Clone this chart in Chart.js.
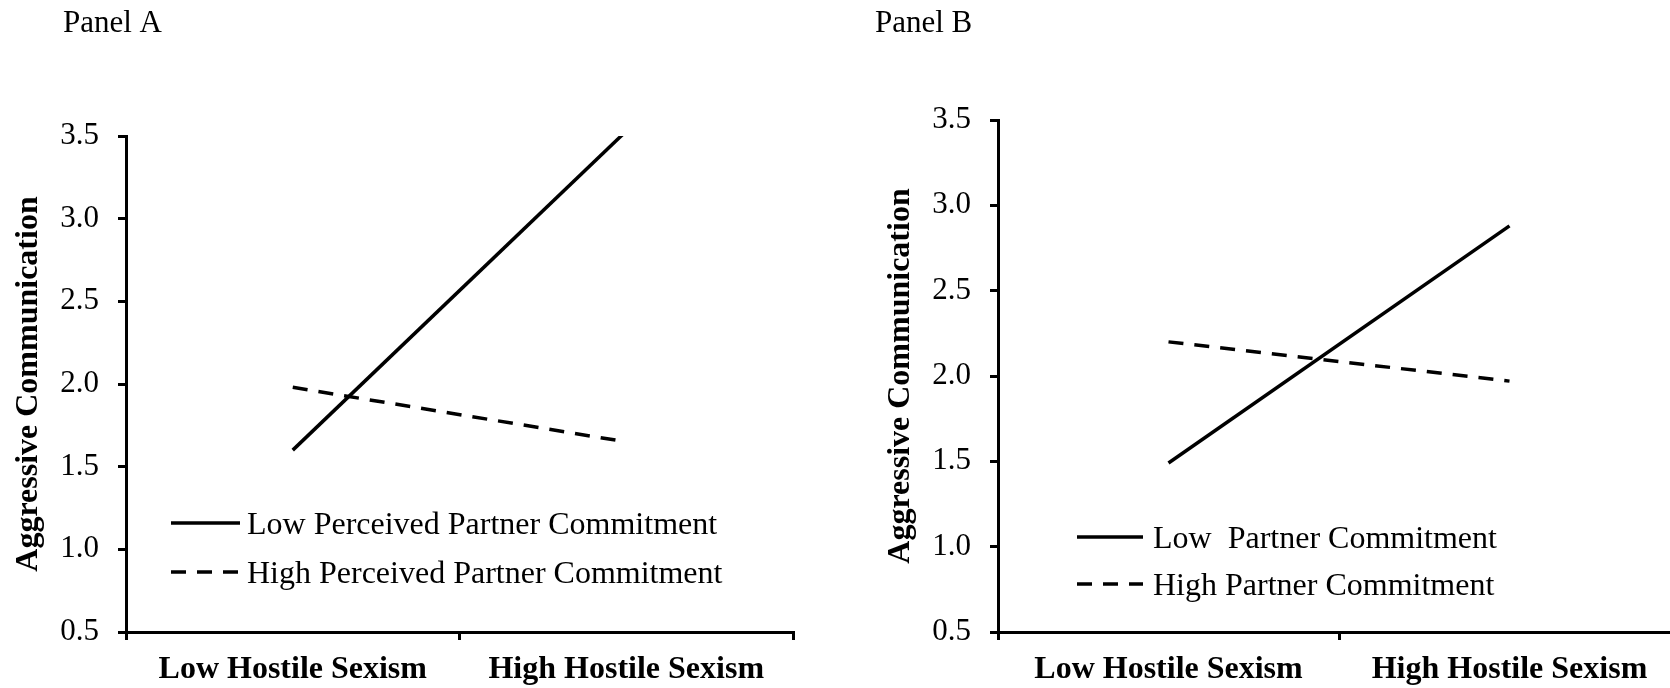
<!DOCTYPE html>
<html>
<head>
<meta charset="utf-8">
<title>Aggressive Communication</title>
<script src="https://cdn.jsdelivr.net/npm/chart.js@4.4.1/dist/chart.umd.min.js"></script>
<style>
    html, body { margin: 0; padding: 0; background: #fff; overflow: hidden; }
    .wrap { position: relative; width: 1670px; height: 688px; overflow: hidden; }
    .wrap canvas { position: absolute; top: 0; }
    #panel-a { left: 0; }
    #panel-b { left: 835px; }
</style>
</head>
<body>
<div class="wrap">
    <canvas id="panel-a" width="835" height="688"></canvas>
    <canvas id="panel-b" width="850" height="688"></canvas>
</div>
<script>
// data
var categories = ["Low Hostile Sexism", "High Hostile Sexism"];
var yTicks = [0.5, 1.0, 1.5, 2.0, 2.5, 3.0, 3.5];

var panelALabels = ["Low Perceived Partner Commitment", "High Perceived Partner Commitment"];
var panelALow = [1.60, 3.53];
var panelAHigh = [1.98, 1.65];

var panelBLabels = ["Low  Partner Commitment", "High Partner Commitment"];
var panelBLow = [1.49, 2.88];
var panelBHigh = [2.20, 1.97];

var serif = "'Liberation Serif', 'Times New Roman', serif";


// panel title + inline legend
var panelDecor = {
    id: "panelDecor",
    afterDraw: function (chart, args, opts) {
        var ctx = chart.ctx;
        ctx.save();
        ctx.fillStyle = "#000";
        ctx.font = "31px " + serif;
        ctx.textBaseline = "alphabetic";
        ctx.textAlign = "left";
        ctx.fillText(opts.title, opts.titleX, 32);

        ctx.font = "32px " + serif;
        ctx.textBaseline = "middle";
        chart.data.datasets.forEach(function (ds, i) {
            var y = opts.rows[i];
            ctx.strokeStyle = "#000";
            ctx.lineWidth = ds.borderWidth;
            ctx.setLineDash(ds.borderDash || []);
            ctx.beginPath();
            ctx.moveTo(opts.lineX[0], y);
            ctx.lineTo(opts.lineX[1], y);
            ctx.stroke();
            ctx.setLineDash([]);
            ctx.fillText(ds.label, opts.textX, y + 3);
        });
        ctx.restore();
    }
};


function makePanel(canvasId, labels, low, high, box, decor) {
    var ctx = document.getElementById(canvasId).getContext("2d");
    return new Chart(ctx, {
        type: "line",
        data: {
            labels: categories,
            datasets: [{
                    label: labels[0],
                    data: low,
                    borderColor: "#000",
                    borderWidth: 3.5,
                    pointRadius: 0,
                    tension: 0,
                    clip: 0
                },
                {
                    label: labels[1],
                    data: high,
                    borderColor: "#000",
                    borderWidth: 3.5,
                    borderDash: [15, 11],
                    pointRadius: 0,
                    tension: 0,
                    clip: 0
                }
            ]
        },
        options: {
            responsive: false,
            animation: false,
            layout: {
                padding: {top: box.top, right: box.right, left: 0, bottom: 0}
            },
            plugins: {
                legend: {display: false},
                tooltip: {enabled: false},
                panelDecor: decor
            },
            scales: {
                x: {
                    offset: true,
                    grid: {
                        offset: true,
                        drawOnChartArea: false,
                        tickLength: 8,
                        color: "#000",
                        lineWidth: 3
                    },
                    border: {color: "#000", width: 3},
                    ticks: {
                        color: "#000",
                        font: {family: serif, size: 32, weight: "bold"},
                        padding: 11,
                        maxRotation: 0,
                        autoSkip: false
                    },
                    afterFit: function (scale) { scale.height = 688 - box.bottom; }
                },
                y: {
                    min: yTicks[0],
                    max: yTicks[yTicks.length - 1],
                    afterBuildTicks: function (scale) {
                        scale.ticks = yTicks.map(function (v) { return {value: v}; });
                    },
                    grid: {
                        drawOnChartArea: false,
                        tickLength: 8,
                        color: "#000",
                        lineWidth: 3
                    },
                    border: {color: "#000", width: 3},
                    ticks: {
                        color: "#000",
                        font: {family: serif, size: 31},
                        padding: 19,
                        callback: function (v) { return Number(v).toFixed(1); }
                    },
                    title: {
                        display: true,
                        text: "Aggressive Communication",
                        color: "#000",
                        font: {family: serif, size: 32, weight: "bold"},
                        padding: {top: box.titlePad, bottom: 0}
                    },
                    afterFit: function (scale) { scale.width = box.left; }
                }
            }
        },
        plugins: [panelDecor]
    });
}


// Panel A
var chartA = makePanel("panel-a", panelALabels, panelALow, panelAHigh,
    {left: 126, top: 136, right: 42, bottom: 632, titlePad: 10},
    {title: "Panel A", titleX: 63, lineX: [171, 240], textX: 247, rows: [523, 572]});

// Panel B (its x axis runs a little past the right edge of the picture)
var chartB = makePanel("panel-b", panelBLabels, panelBLow, panelBHigh,
    {left: 163, top: 120, right: 5, bottom: 632, titlePad: 47},
    {title: "Panel B", titleX: 40, lineX: [242, 308], textX: 318, rows: [537, 584]});
</script>
</body>
</html>
